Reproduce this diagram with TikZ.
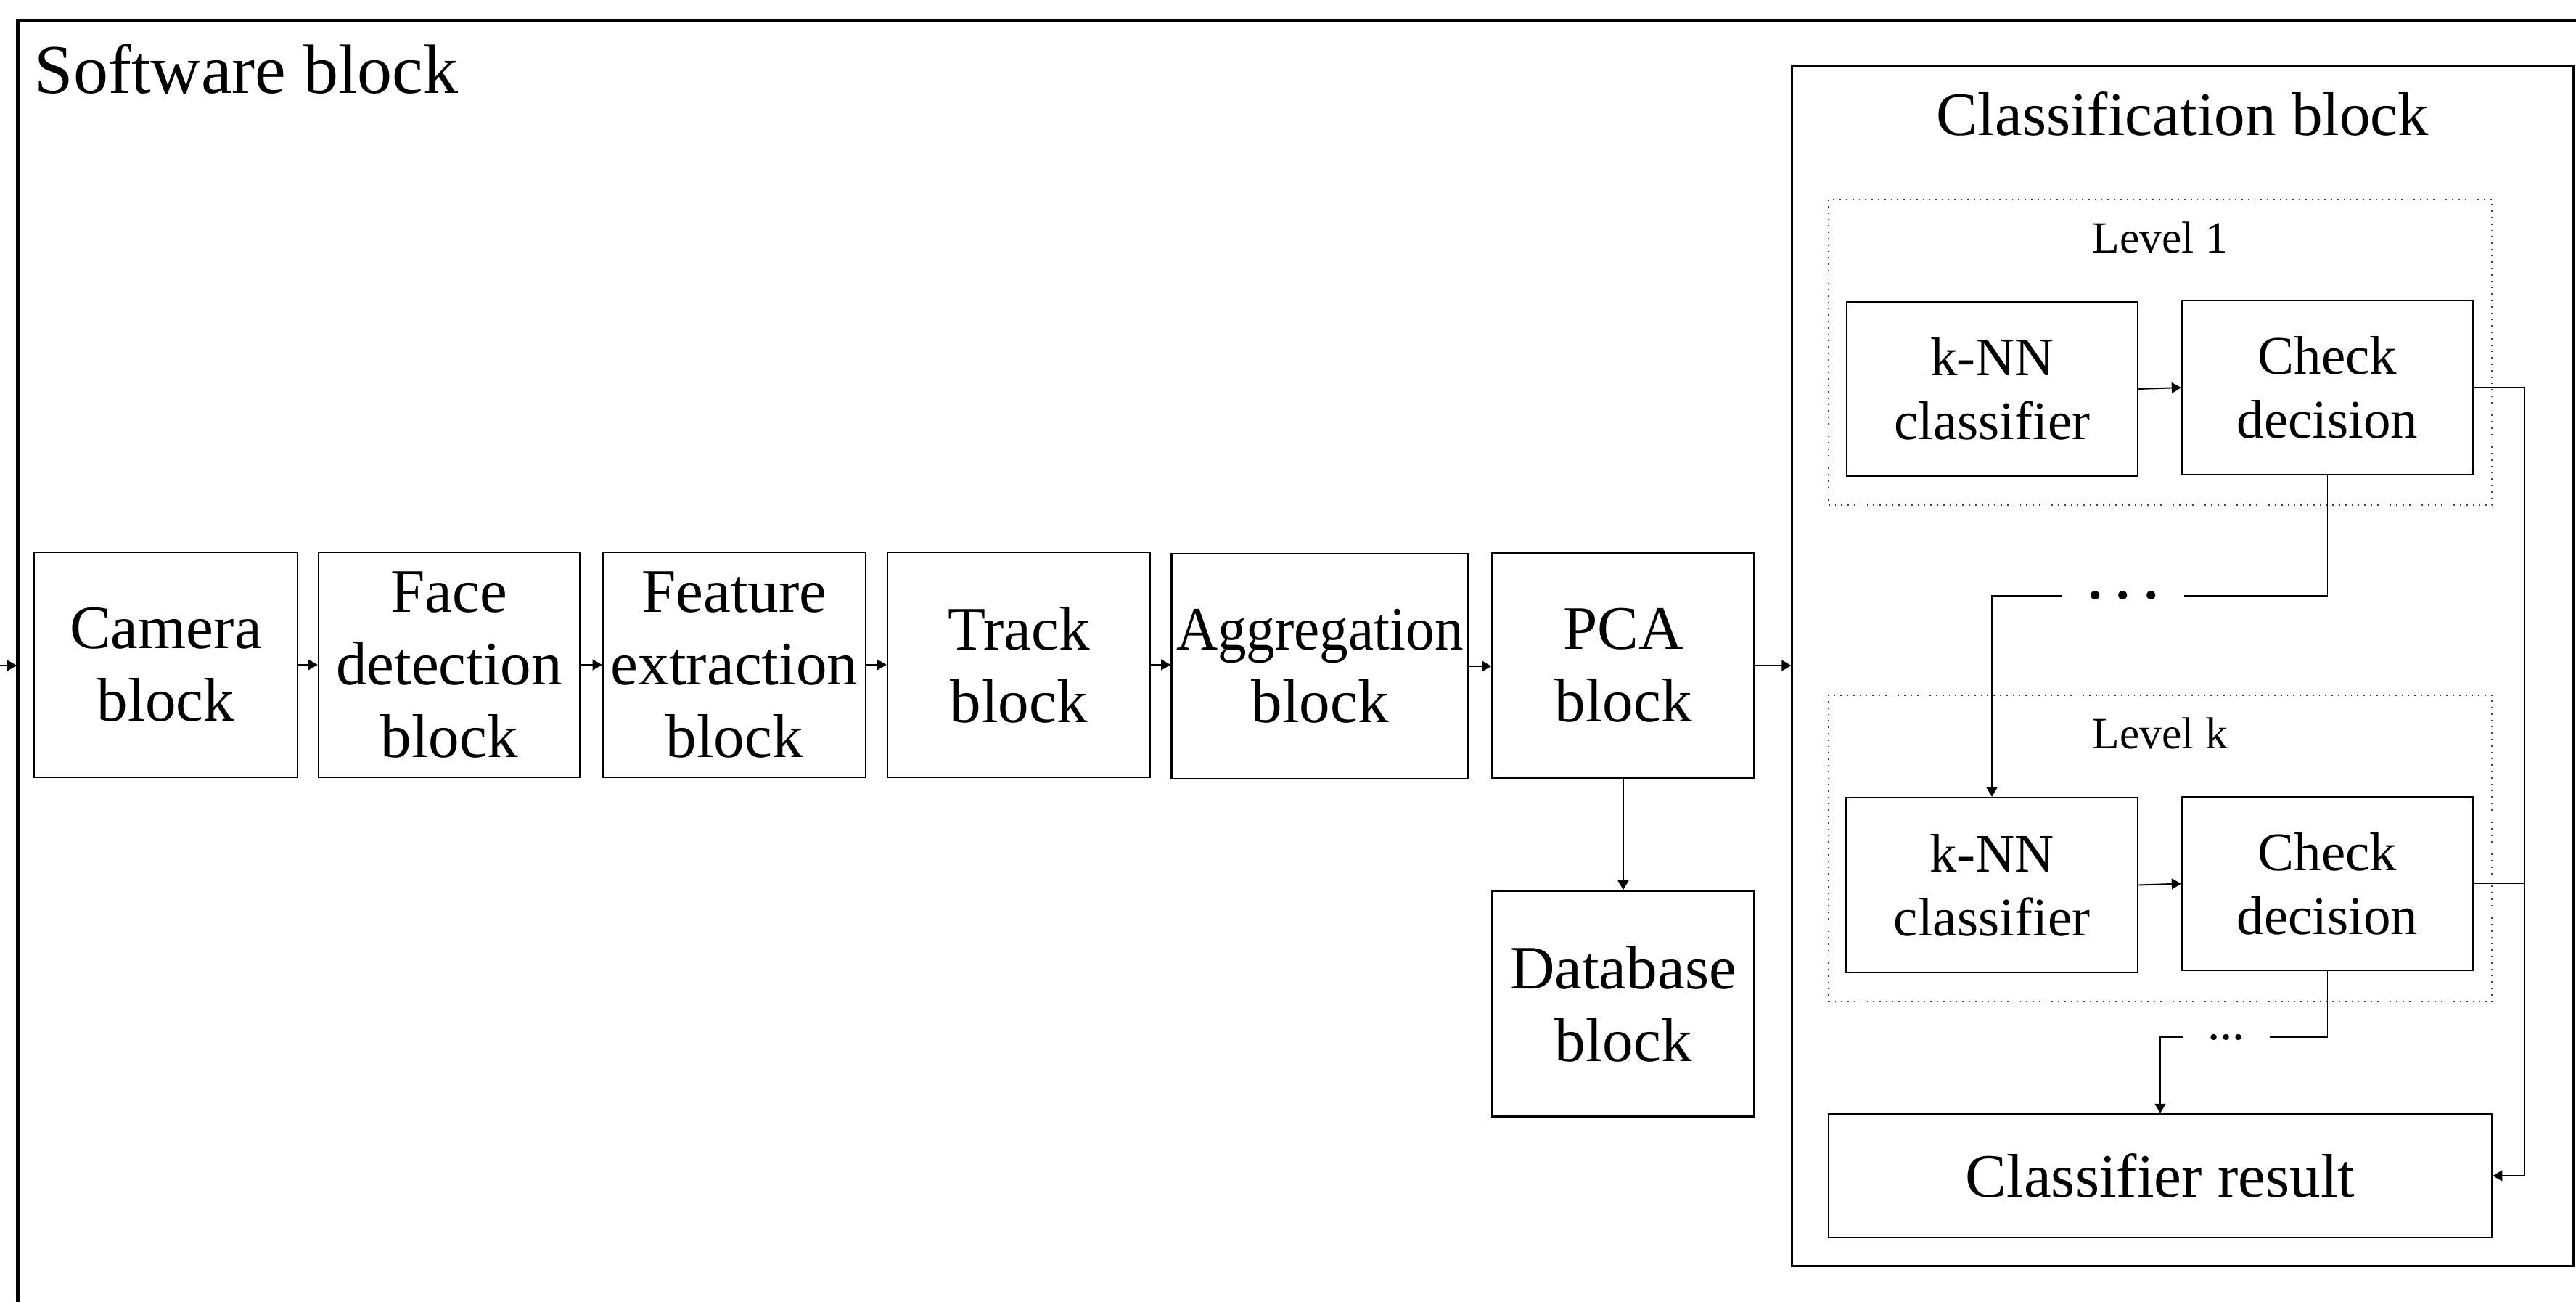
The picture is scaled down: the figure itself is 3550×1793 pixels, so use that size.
\documentclass[tikz,border=0pt]{standalone}
\usepackage{fontspec}
\setmainfont{Liberation Serif}
\usetikzlibrary{arrows.meta}
\begin{document}
\begin{tikzpicture}[x=0.01cm,y=-0.01cm,
  blk/.style={draw,line width=0.7pt,inner sep=0pt,align=center,font=\fontsize{24.2}{28.45}\selectfont},
  sblk/.style={draw,line width=0.6pt,inner sep=0pt,align=center,font=\fontsize{21.3}{25}\selectfont},
  lvl/.style={draw=black!75,dotted,line width=0.5pt,inner sep=0pt},
  conn/.style={line width=0.55pt},
  arr/.style={conn,-{Triangle[length=3.7pt,width=4.2pt]}}]
\useasboundingbox (0,0) rectangle (3550,1793);
\clip (0,0) rectangle (3550,1793);
% outer software block
\draw[line width=1.42pt] (24.5,1900) -- (24.5,28) -- (3700,28);
\node[font=\fontsize{27.3}{32}\selectfont,anchor=base west,inner sep=0pt] (swtitle) at (47,128) {Software block};
% input arrow
\coordinate (src) at (0,917);
\coordinate (sw) at (23,917);
\draw[arr] (src) -- (sw);
% main chain
\node[blk,minimum width=3.63cm,minimum height=3.10cm] (cam) at (228.5,916) {Camera\\block};
\node[blk,minimum width=3.60cm,minimum height=3.10cm] (face) at (619,916) {Face\\detection\\block};
\node[blk,minimum width=3.62cm,minimum height=3.10cm] (feat) at (1012,916) {Feature\\extraction\\block};
\node[blk,minimum width=3.62cm,minimum height=3.10cm] (track) at (1404,916) {Track\\block};
\node[blk,minimum width=4.09cm,minimum height=3.10cm] (agg) at (1819,918) {\scalebox{0.93}[1]{Aggregation}\\block};
\node[blk,minimum width=3.61cm,minimum height=3.10cm] (pca) at (2237,917) {PCA\\block};
\node[blk,minimum width=3.61cm,minimum height=3.11cm] (db) at (2237,1383) {Database\\block};
\draw[arr] (cam.east) -- (face.west);
\draw[arr] (face.east) -- (feat.west);
\draw[arr] (feat.east) -- (track.west);
\draw[arr] (track.east) -- (agg.west |- track.east);
\draw[arr] (agg.east) -- (pca.west |- agg.east);
\draw[arr] (pca.south) -- (db.north);
% classification block
\node[draw,line width=0.7pt,inner sep=0pt,minimum width=10.76cm,minimum height=16.53cm] (cls) at (3008,917.5) {};
\draw[arr] (pca.east) -- (pca.east -| cls.west);
\node[font=\fontsize{24.2}{29}\selectfont,anchor=base,inner sep=0pt] (clstitle) at (3008,186) {Classification block};
% level 1
\node[lvl,minimum width=9.14cm,minimum height=4.21cm] (lv1) at (2977,485.5) {};
\node[font=\fontsize{17.5}{20}\selectfont,anchor=base,inner sep=0pt] (lv1t) at (2977,348) {Level 1};
\node[sblk,minimum width=4.01cm,minimum height=2.40cm] (knn1) at (2745.5,536) {k-NN\\classifier};
\node[sblk,minimum width=4.01cm,minimum height=2.40cm] (chk1) at (3207.5,534) {Check\\decision};
\draw[arr] (knn1.east) -- (chk1.west);
% dots between levels
\node[inner sep=0pt,minimum width=1.66cm,font=\fontsize{21}{24}\selectfont\bfseries] (d1) at (2926,821) {.\hspace{0.27em}.\hspace{0.27em}.};
\draw[conn] (chk1.south) |- (d1.east);
% level k
\node[lvl,minimum width=9.14cm,minimum height=4.22cm] (lvk) at (2977,1169) {};
\node[font=\fontsize{17.5}{20}\selectfont,anchor=base,inner sep=0pt] (lvkt) at (2977,1031) {Level k};
\node[sblk,minimum width=4.02cm,minimum height=2.41cm] (knnk) at (2745,1219.5) {k-NN\\classifier};
\node[sblk,minimum width=4.01cm,minimum height=2.39cm] (chkk) at (3207.5,1217.5) {Check\\decision};
\draw[arr] (d1.west) -| (knnk.north);
\draw[arr] (knnk.east) -- (chkk.west);
% dots before result
\node[inner sep=0pt,minimum width=1.19cm,font=\fontsize{19.5}{22}\selectfont] (d2) at (3068,1429) {...};
\draw[conn] (chkk.south) |- (d2.east);
% result
\node[blk,line width=0.6pt,minimum width=9.14cm,minimum height=1.70cm] (res) at (2977,1620) {Classifier result};
\draw[arr] (d2.west) -| (res.north);
% right bus
\coordinate (bus) at (3479,534);
\draw[arr] (chk1.east) -- (bus) |- (res.east);
\draw[conn] (chkk.east) -- (bus |- chkk.east);
\end{tikzpicture}
\end{document}
